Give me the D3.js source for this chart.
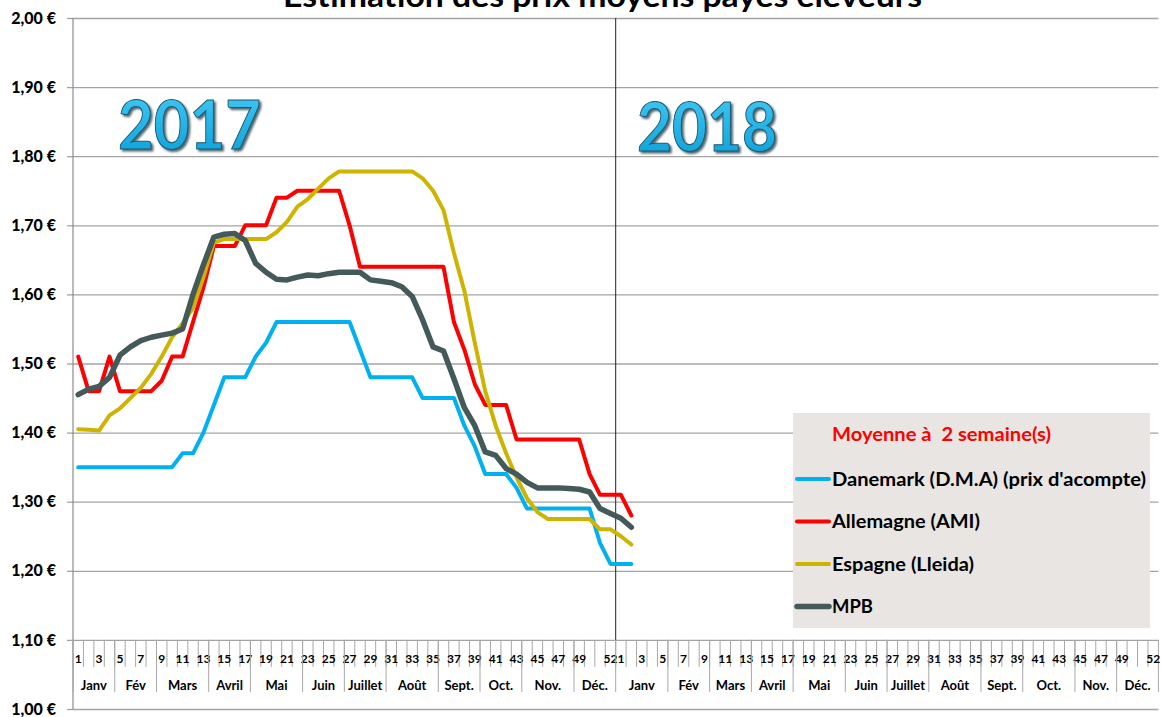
<!DOCTYPE html>
<html><head><meta charset="utf-8">
<script src="https://cdn.jsdelivr.net/npm/d3@7"></script>
<style>
html,body{margin:0;padding:0;background:#fff;}
svg{display:block;}
text{font-family:Lato,"Open Sans",sans-serif;font-weight:bold;}
</style></head>
<body>
<svg id="chart" width="1161" height="717"></svg>
<script>
// ---------------- DATA ----------------
const chartTitle = "Estimation des prix moyens payés éleveurs";
const years = ["2017", "2018"];
const weeksPerYear = 52;
const weekTickLabels = ["1","3","5","7","9","11","13","15","17","19","21","23","25","27","29","31","33","35","37","39","41","43","45","47","49","52"];
const monthNames = ["Janv","Fév","Mars","Avril","Mai","Juin","Juillet","Août","Sept.","Oct.","Nov.","Déc."];
const monthWeeks2017 = [4,4,5,4,5,4,4,5,4,4,5,4];
const monthWeeks2018 = [5,4,4,4,5,4,4,5,4,5,4,4];
const yTickValues = [1.0,1.1,1.2,1.3,1.4,1.5,1.6,1.7,1.8,1.9,2.0];
const yTickLabels = ["1,00 €","1,10 €","1,20 €","1,30 €","1,40 €","1,50 €","1,60 €","1,70 €","1,80 €","1,90 €","2,00 €"];
const legendTitle = "Moyenne à  2 semaine(s)";
const seriesNames = ["Danemark (D.M.A) (prix d'acompte)", "Allemagne (AMI)", "Espagne (Lleida)", "MPB"];

// weekly values, 2017 W1 .. 2018 W2
const danemark = [1.35,1.35,1.35,1.35,1.35,1.35,1.35,1.35,1.35,1.35,
  1.37,1.37,1.40,1.44,1.48,1.48,1.48,1.51,1.53,
  1.56,1.56,1.56,1.56,1.56,1.56,1.56,1.56,
  1.52,1.48,1.48,1.48,1.48,1.48,
  1.45,1.45,1.45,1.45,1.41,1.38,1.34,1.34,1.34,1.32,
  1.29,1.29,1.29,1.29,1.29,1.29,1.29,1.24,1.21,1.21,1.21];
const allemagne = [1.51,1.46,1.46,1.51,1.46,1.46,1.46,1.46,1.475,1.51,1.51,1.56,1.61,
  1.67,1.67,1.67,1.70,1.70,1.70,1.74,1.74,1.75,1.75,1.75,1.75,1.75,1.70,
  1.64,1.64,1.64,1.64,1.64,1.64,1.64,1.64,1.64,
  1.56,1.52,1.47,1.44,1.44,1.44,
  1.39,1.39,1.39,1.39,1.39,1.39,1.39,1.34,1.31,1.31,1.31,1.28];
const espagne = [1.405,1.404,1.403,1.425,1.435,1.45,1.465,1.485,1.51,1.538,1.558,1.58,1.625,1.675,
  1.68,1.68,1.68,1.68,1.68,1.69,1.705,1.727,1.738,1.753,1.768,
  1.778,1.778,1.778,1.778,1.778,1.778,1.778,1.778,
  1.768,1.75,1.722,1.66,1.605,1.53,1.46,1.41,1.37,1.335,1.305,1.285,
  1.275,1.275,1.275,1.275,1.275,1.26,1.26,1.25,1.238];
const mpb = [1.455,1.463,1.467,1.48,1.512,1.524,1.533,1.538,1.541,1.544,1.55,1.60,1.643,
  1.683,1.687,1.688,1.678,1.645,1.632,1.622,1.621,1.625,1.628,1.627,1.630,1.632,1.632,1.632,
  1.621,1.619,1.617,1.611,1.597,1.563,1.524,1.518,1.478,1.436,1.41,1.372,1.367,1.348,1.34,1.328,
  1.32,1.32,1.32,1.319,1.318,1.314,1.29,1.283,1.276,1.263];

// ---------------- CHART ----------------
const svg = d3.select("#chart");
const plotL = 73, plotR = 1158.4, plotT = 18, plotB = 709;

const categories = [];
years.forEach(yr => { for (let w = 1; w <= weeksPerYear; w++) categories.push({year: yr, week: String(w), key: yr + "-" + w}); });

const x = d3.scaleBand().domain(categories.map(c => c.key)).range([plotL, plotR]).paddingInner(0).paddingOuter(0);
const bw = x.bandwidth();
const xc = i => x(categories[i].key) + bw / 2;
const y = d3.scaleLinear().domain([1.0, 2.0]).range([plotB, plotT]);

const defs = svg.append("defs");
const grad = defs.append("linearGradient").attr("id","yearGrad").attr("x1",0).attr("y1",0).attr("x2",0).attr("y2",1);
grad.append("stop").attr("offset","0%").attr("stop-color","#45CBF7");
grad.append("stop").attr("offset","100%").attr("stop-color","#0A9ED8");
const filt = defs.append("filter").attr("id","yearShadow").attr("x","-10%").attr("y","-10%").attr("width","130%").attr("height","140%");
filt.append("feDropShadow").attr("dx",2).attr("dy",2).attr("stdDeviation",1.2).attr("flood-color","#16323c").attr("flood-opacity",0.75);

// title (mostly off the top edge, as in the reference)
svg.append("text").attr("x", 602.5).attr("y", 6.5).attr("text-anchor","middle")
  .attr("font-size", 30).attr("fill","#000")
  .attr("textLength", 639).attr("lengthAdjust","spacingAndGlyphs").text(chartTitle);

// gridlines + y axis
const gridColor = "#a3a3a3";
const yAxis = d3.axisLeft(y).tickValues(yTickValues).tickSize(6).tickPadding(10)
  .tickFormat((d, i) => yTickLabels[i]);
const gy = svg.append("g").attr("transform", `translate(${plotL},0)`).call(yAxis);
gy.select(".domain").remove();
gy.selectAll(".tick line").attr("stroke", gridColor).attr("stroke-width", 1.3);
gy.selectAll(".tick text").attr("font-size", 16).attr("fill","#000").attr("x", -17)
  .style("font-family","Lato,sans-serif").style("font-weight","900");
const grid = d3.axisLeft(y).tickValues(yTickValues).tickSize(-(plotR - plotL)).tickFormat("");
const gg = svg.append("g").attr("transform", `translate(${plotL},0)`).call(grid);
gg.select(".domain").remove();
gg.selectAll(".tick line").attr("stroke", gridColor).attr("stroke-width", 1.3);

// y axis line
svg.append("line").attr("x1", plotL).attr("x2", plotL).attr("y1", plotT).attr("y2", plotB)
  .attr("stroke", "#8c8c8c").attr("stroke-width", 1.2);

// category axis at 1.10
const axisY = y(1.1);
const catG = svg.append("g");
const weekTickBottom = axisY + 27, monthTickBottom = axisY + 52;
categories.forEach((c) => {
  catG.append("line").attr("x1", x(c.key)).attr("x2", x(c.key)).attr("y1", axisY).attr("y2", weekTickBottom)
    .attr("stroke", "#a8a8a8").attr("stroke-width", 1);
});
catG.append("line").attr("x1", plotR).attr("x2", plotR).attr("y1", axisY).attr("y2", monthTickBottom)
  .attr("stroke", "#a8a8a8").attr("stroke-width", 1);
categories.forEach((c, i) => {
  if (weekTickLabels.includes(c.week)) {
    catG.append("text").attr("x", xc(i)).attr("y", axisY + 23).attr("text-anchor","middle")
      .attr("font-size", 12).attr("fill","#000").text(c.week);
  }
});
[monthWeeks2017, monthWeeks2018].forEach((mw, yi) => {
  let start = yi * weeksPerYear;
  mw.forEach((n, mi) => {
    const x0 = x(categories[start].key);
    const x1 = (start + n < categories.length) ? x(categories[start + n].key) : plotR;
    catG.append("line").attr("x1", x0).attr("x2", x0).attr("y1", axisY).attr("y2", monthTickBottom)
      .attr("stroke", "#a8a8a8").attr("stroke-width", 1);
    catG.append("text").attr("x", (x0 + x1) / 2).attr("y", axisY + 50.5).attr("text-anchor","middle")
      .attr("font-size", 13).attr("fill","#000").text(monthNames[mi]);
    start += n;
  });
});

// year separator
const sepX = x(categories[weeksPerYear].key);
svg.append("line").attr("x1", sepX).attr("x2", sepX).attr("y1", plotT).attr("y2", axisY)
  .attr("stroke", "#222").attr("stroke-width", 1);

// year labels
svg.append("text").attr("x", 118).attr("y", 149).attr("font-size", 66)
  .attr("textLength", 143).attr("lengthAdjust","spacingAndGlyphs")
  .attr("fill","url(#yearGrad)").attr("stroke","#1f5a6c").attr("stroke-width",1)
  .attr("filter","url(#yearShadow)").text(years[0]);
svg.append("text").attr("x", 637).attr("y", 151).attr("font-size", 66)
  .attr("textLength", 140).attr("lengthAdjust","spacingAndGlyphs")
  .attr("fill","url(#yearGrad)").attr("stroke","#1f5a6c").attr("stroke-width",1)
  .attr("filter","url(#yearShadow)").text(years[1]);

// series lines
const seriesData = [danemark, allemagne, espagne, mpb];
const seriesColors = ["#00B0F0", "#FF0000", "#CCB400", "#445A5A"];
const seriesWidths = [4, 4, 4, 5.5];
const line = d3.line().x((d, i) => xc(i)).y(d => y(d));
seriesData.forEach((s, k) => {
  svg.append("path").datum(s).attr("d", line).attr("fill","none")
    .attr("stroke", seriesColors[k]).attr("stroke-width", seriesWidths[k])
    .attr("stroke-linejoin","round").attr("stroke-linecap","round");
});

// legend
const lg = svg.append("g");
lg.append("rect").attr("x", 793).attr("y", 413).attr("width", 357).attr("height", 215).attr("fill", "#E8E5E2");
lg.append("text").attr("x", 832).attr("y", 441).attr("font-size", 18).attr("fill","#FF0000")
  .attr("textLength", 219).attr("lengthAdjust","spacingAndGlyphs").style("white-space","pre").text(legendTitle);
const rowY = [479, 521.5, 564, 606.5];
const textW = [314, 148, 142, 41];
seriesNames.forEach((nm, k) => {
  lg.append("line").attr("x1", 797).attr("x2", 829).attr("y1", rowY[k]).attr("y2", rowY[k])
    .attr("stroke", seriesColors[k]).attr("stroke-width", seriesWidths[k]).attr("stroke-linecap","round");
  lg.append("text").attr("x", 832).attr("y", rowY[k] + 6.5).attr("font-size", 18).attr("fill","#000")
    .attr("textLength", textW[k]).attr("lengthAdjust","spacingAndGlyphs").text(nm);
});
</script>
</body></html>
